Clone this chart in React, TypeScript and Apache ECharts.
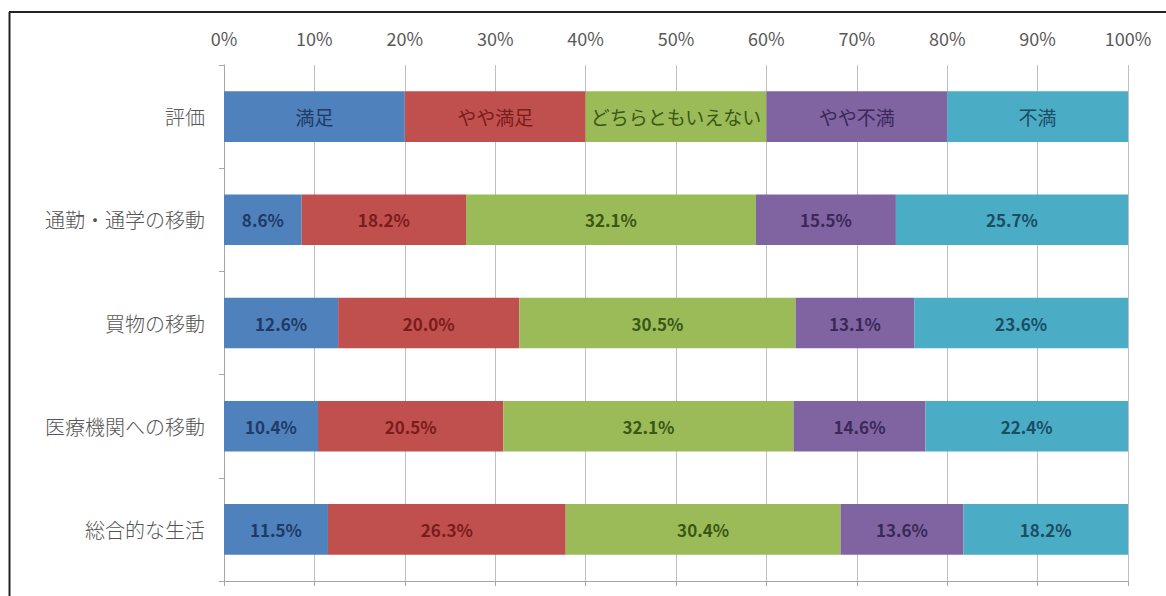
import React, { useEffect, useRef } from "react";
import * as echarts from "echarts";

const categories = ["評価", "通勤・通学の移動", "買物の移動", "医療機関への移動", "総合的な生活"];
const seriesNames = ["満足", "やや満足", "どちらともいえない", "やや不満", "不満"];
const satisfied = [20, 8.6, 12.6, 10.4, 11.5];
const somewhatSatisfied = [20, 18.2, 20.0, 20.5, 26.3];
const neutral = [20, 32.1, 30.5, 32.1, 30.4];
const somewhatDissatisfied = [20, 15.5, 13.1, 14.6, 13.6];
const dissatisfied = [20, 25.7, 23.6, 22.4, 18.2];
const tickValues = [0, 10, 20, 30, 40, 50, 60, 70, 80, 90, 100];

const seriesValues = [satisfied, somewhatSatisfied, neutral, somewhatDissatisfied, dissatisfied];
const barColors = ["#4f81bd", "#c0504d", "#9bbb59", "#8064a2", "#4bacc6"];
const labelColors = ["#1f3a66", "#7a1c1c", "#3a5714", "#3b2858", "#1b4d63"];

const FONT = "'Noto Sans CJK JP', 'Noto Sans', sans-serif";

export default function App() {
  const ref = useRef<HTMLDivElement>(null);

  useEffect(() => {
    if (!ref.current) return;
    const chart = echarts.init(ref.current, undefined, { renderer: "svg" });
    const totals = categories.map((_, i) =>
      seriesValues.reduce((s, arr) => s + arr[i], 0)
    );

    const series = seriesNames.map((name, si) => ({
      name,
      type: "bar",
      stack: "total",
      barCategoryGap: "51%",
      xAxisIndex: 0,
      yAxisIndex: 0,
      itemStyle: { color: barColors[si] },
      label: {
        show: true,
        position: "inside",
        fontFamily: FONT,
        color: labelColors[si],
        formatter: (p: any) =>
          p.dataIndex === 0 ? name : seriesValues[si][p.dataIndex].toFixed(1) + "%",
      },
      data: seriesValues[si].map((v, i) => ({
        value: (v / totals[i]) * 100,
        label:
          i === 0
            ? { fontSize: 19, fontWeight: "normal" }
            : { fontSize: 17, fontWeight: "bold" },
      })),
    }));

    chart.setOption({
      animation: false,
      backgroundColor: "#ffffff",
      textStyle: { fontFamily: FONT },
      grid: { left: 224, right: 38, top: 65, bottom: 15, containLabel: false },
      xAxis: [
        {
          type: "value",
          position: "top",
          min: tickValues[0],
          max: tickValues[tickValues.length - 1],
          interval: tickValues[1] - tickValues[0],
          axisLine: { show: false },
          axisTick: { show: false },
          axisLabel: {
            formatter: "{value}%",
            fontSize: 18,
            color: "#595959",
            margin: 18,
            fontFamily: FONT,
          },
          splitLine: { show: true, lineStyle: { color: "#bfbfbf", width: 1 } },
        },
        {
          type: "value",
          position: "bottom",
          min: tickValues[0],
          max: tickValues[tickValues.length - 1],
          interval: tickValues[1] - tickValues[0],
          axisLine: { show: true, lineStyle: { color: "#a6a6a6", width: 1 } },
          axisTick: { show: true, length: 5, lineStyle: { color: "#a6a6a6" } },
          axisLabel: { show: false },
          splitLine: { show: false },
        },
      ],
      yAxis: {
        type: "category",
        inverse: true,
        data: categories,
        axisLine: { show: true, lineStyle: { color: "#a6a6a6", width: 1 } },
        axisTick: { show: true, length: 5, lineStyle: { color: "#a6a6a6" } },
        axisLabel: {
          fontSize: 20,
          color: "#555555",
          fontWeight: 300,
          margin: 19,
          fontFamily: FONT,
        },
      },
      graphic: [
        {
          type: "line",
          shape: { x1: 9, y1: 12, x2: 1166, y2: 12 },
          style: { stroke: "#222222", lineWidth: 2 },
        },
        {
          type: "line",
          shape: { x1: 9.5, y1: 12, x2: 9.5, y2: 596 },
          style: { stroke: "#222222", lineWidth: 2 },
        },
      ],
      series,
    });

    return () => chart.dispose();
  }, []);

  return (
    <div
      ref={ref}
      style={{
        position: "fixed",
        left: 0,
        top: 0,
        width: 1166,
        height: 596,
        background: "#ffffff",
      }}
    />
  );
}
